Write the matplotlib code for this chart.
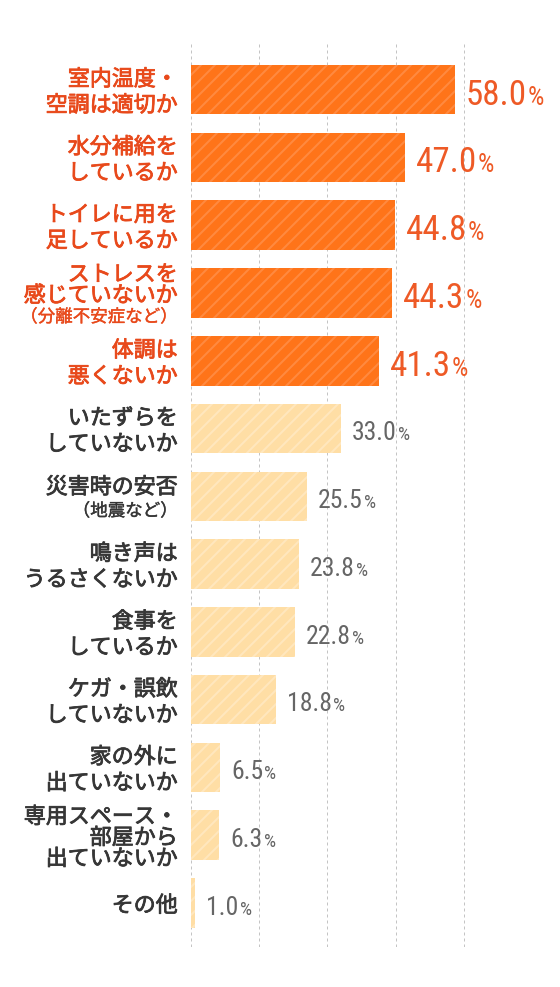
import matplotlib
matplotlib.use('Agg')
import matplotlib.pyplot as plt
import matplotlib.patheffects as pe

# survey items, top to bottom
labels = [
    '室内温度・\n空調は適切か',
    '水分補給を\nしているか',
    'トイレに用を\n足しているか',
    'ストレスを\n感じていないか\n（分離不安症など）',
    '体調は\n悪くないか',
    'いたずらを\nしていないか',
    '災害時の安否\n（地震など）',
    '鳴き声は\nうるさくないか',
    '食事を\nしているか',
    'ケガ・誤飲\nしていないか',
    '家の外に\n出ていないか',
    '専用スペース・\n部屋から\n出ていないか',
    'その他',
]
values = [58.0, 47.0, 44.8, 44.3, 41.3, 33.0, 25.5, 23.8, 22.8, 18.8, 6.5, 6.3, 1.0]
grid_ticks = [0, 15, 30, 45, 60]
n_highlight = 5

ORANGE = '#FF7419'
ORANGE_STRIPE = '#FF8A40'
CREAM = '#FFDEA5'
CREAM_STRIPE = '#FFE7BE'
LABEL_HL = '#E8491B'
LABEL = '#363636'
VALUE_HL = '#EE5A26'
VALUE = '#666666'

JP = ['Noto Sans CJK JP', 'DejaVu Sans']
NUM = ['Roboto Condensed', 'Liberation Sans Narrow', 'Roboto', 'DejaVu Sans']

# dpi picked so the '//' hatch spacing matches the reference stripes
DPI = 84
PX = 72 / DPI  # points per pixel

plt.rcParams['hatch.linewidth'] = 2.0 * PX


def fs(px):
    return px * PX


def plot_bars():
    fig = plt.figure(figsize=(560 / DPI, 987 / DPI), dpi=DPI)
    left = 190.7 / 560
    ax = fig.add_axes([left, 40.3 / 987, 1 - left, 902.7 / 987])
    ax.set_xlim(0, (560 - 190.7) / 4.553)
    ax.set_ylim(12.645, -0.674)
    ax.axis('off')

    for x in grid_ticks:
        ax.axvline(x, color='#c4c4c4', lw=fs(1), ls=(0, (3, 3)), zorder=0)

    ypos = list(range(len(values)))
    face = [ORANGE if i < n_highlight else CREAM for i in ypos]
    stripe = [ORANGE_STRIPE if i < n_highlight else CREAM_STRIPE for i in ypos]
    ax.barh(ypos, values, height=0.73, color=face, edgecolor=stripe,
            linewidth=0, hatch='//', zorder=2)

    for i, (lab, v) in enumerate(zip(labels, values)):
        hl = i < n_highlight
        col = LABEL_HL if hl else LABEL
        lines = lab.split('\n')
        n = len(lines)
        has_sub = any(l.startswith('（') for l in lines)
        if n == 2 and not has_sub:
            step = 26
        elif has_sub and n == 2:
            step = 23.5
        else:
            step = 21
        for k, line in enumerate(lines):
            dy = 3 + (k - (n - 1) / 2) * step
            sub = line.startswith('（')
            # thin stroke gives the regular face a medium-ish weight
            thicken = [pe.withStroke(linewidth=fs(0.4 if sub else 0.8), foreground=col)]
            ax.annotate(line, xy=(0, i), xytext=(-13 * PX, -dy * PX),
                        textcoords='offset points', ha='right', va='center',
                        fontsize=fs(17.5) if sub else fs(22),
                        color=col, family=JP, path_effects=thicken)

        size = 35 if hl else 25.8
        base = 2.5 + 0.355 * size
        vcol = VALUE_HL if hl else VALUE
        t = ax.annotate(f'{v:.1f}', xy=(v, i), xytext=(11 * PX, -base * PX),
                        textcoords='offset points', ha='left', va='baseline',
                        fontsize=fs(size), color=vcol, family=NUM)
        ax.annotate('%', xy=(1, i), xycoords=(t, 'data'),
                    xytext=(1 * PX, -base * PX), textcoords='offset points',
                    ha='left', va='baseline', fontsize=fs(size * 0.74),
                    color=vcol, family=NUM)

    fig.savefig('out.png', dpi=DPI)


if __name__ == '__main__':
    plot_bars()
